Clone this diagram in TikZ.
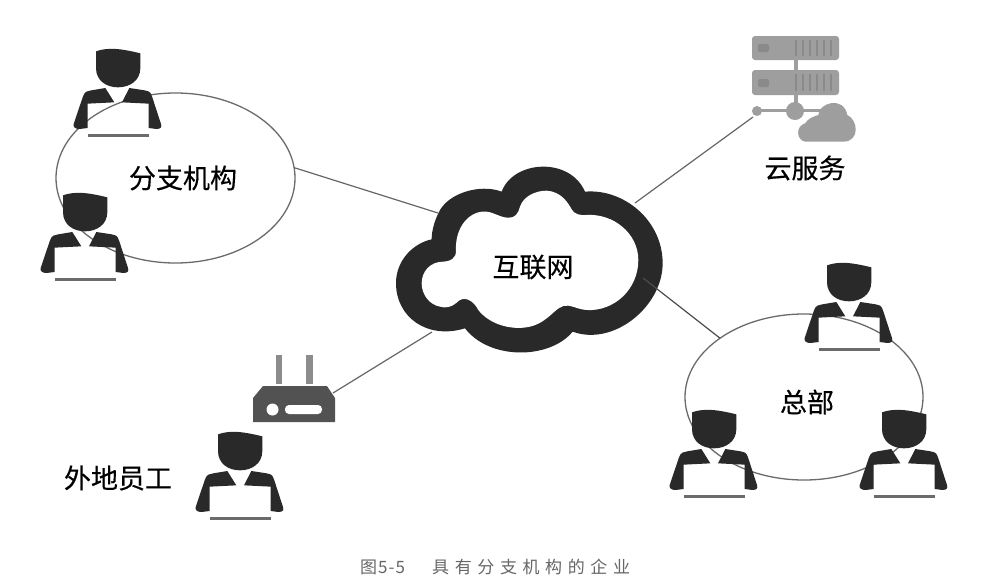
\documentclass[tikz,border=0pt]{standalone}
\usepackage{fontspec}
\setmainfont{Noto Sans CJK SC}
\newfontfamily\labelfont[FakeBold=0.35]{Noto Sans CJK SC}
\usetikzlibrary{shapes.geometric}
\definecolor{ink}{gray}{0.16}
\definecolor{wire}{gray}{0.40}
\definecolor{srv}{gray}{0.62}
\definecolor{srvdark}{gray}{0.54}
\tikzset{
  x=1pt,y=-1pt,
  wireline/.style={draw=wire,line width=1.2pt},
  ringnode/.style={ellipse,draw=black!58,line width=1.3pt,inner sep=0pt,outer sep=0pt},
  biglabel/.style={font=\labelfont\fontsize{27}{27}\selectfont,text=black,inner sep=0pt},
  capt/.style={font=\fontsize{17}{17}\selectfont,text=black!60,inner sep=0pt,anchor=west},
  person/.pic={
    \begin{scope}[x=0.3333pt,y=-0.3333pt]
    \fill[ink] (-66,10) .. controls (-30,-3) and (10,2) .. (67,16)
      -- (67,60) .. controls (67,98) and (35,118) .. (0,118)
      .. controls (-35,118) and (-66,98) .. (-66,60) -- cycle;
    \fill[ink] (-38,120) -- (-11,163) -- (-91,167) -- (-91,240) -- (-115,243)
      .. controls (-128,243) and (-135,238) .. (-133,228)
      -- (-105,145) .. controls (-100,130) and (-90,128) .. (-80,127) -- cycle;
    \fill[ink] (34,120) -- (12,163) -- (92,167) -- (92,240) -- (115,243)
      .. controls (128,243) and (132,238) .. (129,228)
      -- (102,145) .. controls (97,130) and (90,128) .. (80,127) -- cycle;
    \fill[black!58] (-91,258) rectangle (92,267);
    \end{scope}
  }
}
\begin{document}
\begin{tikzpicture}
\useasboundingbox (0,0) rectangle (983,584);
\fill[white] (0,0) rectangle (983,584);
% rings
\node[ringnode,minimum width=239pt,minimum height=170pt] (branch) at (175.5,178) {};
\node[ringnode,minimum width=238pt,minimum height=166pt] (hq) at (804,397) {};
% anchor points on the other devices
\coordinate (cloudW) at (438,213);
\coordinate (cloudNE) at (635,203);
\coordinate (cloudE) at (643,278);
\coordinate (cloudSW) at (432,332);
\coordinate (srvport) at (753,117);
\coordinate (rtrport) at (333,393);
% connectors
\draw[wireline] (branch.5) -- (cloudW);
\draw[wireline] (cloudNE) -- (srvport);
\draw[wireline] (cloudSW) -- (rtrport);
% people
\pic at (118,48) {person};
\pic at (85,192) {person};
\pic at (849,262) {person};
\pic at (714,409) {person};
\pic at (904,409) {person};
\pic at (240,431) {person};
% internet cloud
\begin{scope}[shift={(380,150)},x=0.3333pt,y=-0.3333pt]
\fill[ink] (175,190) .. controls (200,130) and (300,100) .. (365,125)
  .. controls (400,30) and (570,20) .. (615,125)
  .. controls (730,115) and (848,210) .. (848,340)
  .. controls (848,470) and (700,590) .. (578,545)
  .. controls (510,628) and (330,632) .. (255,535)
  .. controls (140,570) and (48,500) .. (48,400)
  .. controls (48,330) and (100,280) .. (155,268)
  .. controls (155,240) and (165,210) .. (175,190) -- cycle;
\fill[white] (228,300) .. controls (225,230) and (270,180) .. (320,185)
  .. controls (345,188) and (360,203) .. (385,203)
  .. controls (405,205) and (415,190) .. (420,170)
  .. controls (430,140) and (465,122) .. (500,122)
  .. controls (545,125) and (565,160) .. (575,178)
  .. controls (582,192) and (600,197) .. (620,195)
  .. controls (700,190) and (775,250) .. (775,330)
  .. controls (775,420) and (700,485) .. (620,480)
  .. controls (590,478) and (570,462) .. (550,468)
  .. controls (530,475) and (520,490) .. (500,505)
  .. controls (470,530) and (430,540) .. (380,530)
  .. controls (340,522) and (310,500) .. (295,480)
  .. controls (280,450) and (250,435) .. (230,458)
  .. controls (215,472) and (195,475) .. (180,470)
  .. controls (150,465) and (125,435) .. (125,400)
  .. controls (125,365) and (150,335) .. (190,335)
  .. controls (210,335) and (230,325) .. (228,300) -- cycle;
\end{scope}
\draw[line width=1.2pt,black!70] (cloudE) -- (hq.145);
% server
\draw[srv,line width=4pt] (796,58) -- (796,108);
\draw[srv,line width=3.5pt] (757,110.5) -- (822,110.5);
\fill[srv,rounded corners=3pt] (752,36) rectangle (839,60);
\fill[srv,rounded corners=3pt] (752,70) rectangle (839,95);
\fill[srvdark,rounded corners=2pt] (758,44) rectangle (769,52);
\fill[srvdark,rounded corners=2pt] (758,79) rectangle (769,87);
\foreach \tx in {795,802,809,816,823,830}{
  \fill[srvdark] (\tx,40) rectangle +(2,16);
  \fill[srvdark] (\tx,74) rectangle +(2,17);
}
\fill[srv] (757,111) circle (5);
\fill[srv] (795,111) circle (9);
\begin{scope}[shift={(730,20)},x=0.3333pt,y=-0.3333pt]
\fill[srv] (225,365) .. controls (200,360) and (195,320) .. (225,310)
  .. controls (235,295) and (250,290) .. (265,285)
  .. controls (265,250) and (340,225) .. (352,285)
  .. controls (385,300) and (390,365) .. (340,365) -- cycle;
\end{scope}
% router
\fill[black!45] (275.5,355) rectangle (282,383.5);
\fill[black!45] (306,355) rectangle (313,383.5);
\fill[black!68,rounded corners=0.5pt] (253,398) -- (263,386) -- (327,386) -- (335,398) -- (335,422) -- (253,422) -- cycle;
\fill[white] (272.5,409.5) circle (6);
\fill[white,rounded corners=4pt] (285,405) rectangle (322,414);
% labels
\node[biglabel] (lblbranch) at (183,178) {分支机构};
\node[biglabel] (lblnet) at (533,267) {互联网};
\node[biglabel] (lblhq) at (807,402) {总部};
\node[biglabel] (lblcloud) at (805,168) {云服务};
\node[biglabel] (lblremote) at (118,478) {外地员工};
\node[capt] (capA) at (360,567) {\addfontfeatures{LetterSpace=6}图5-5};
\node[capt] (capB) at (432,567) {\addfontfeatures{LetterSpace=33}具有分支机构的企业};
\end{tikzpicture}
\end{document}
